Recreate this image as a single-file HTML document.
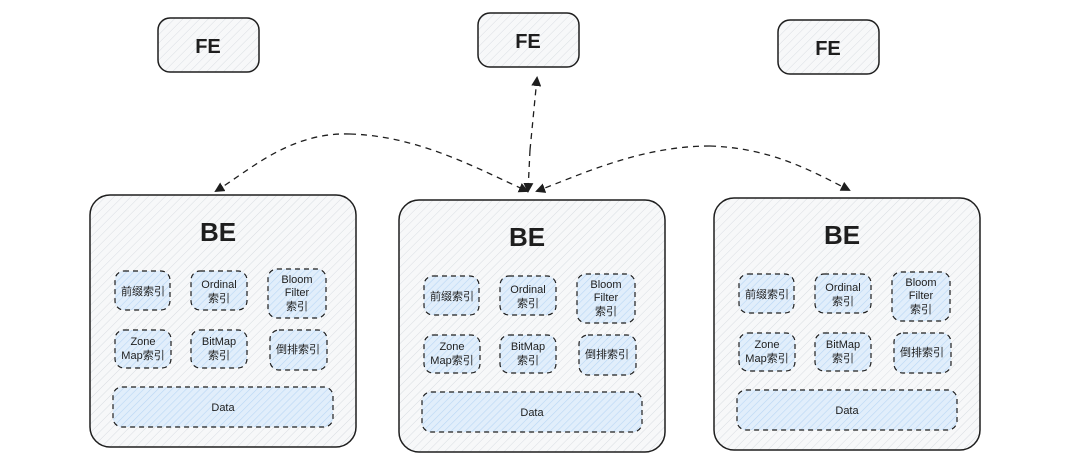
<!DOCTYPE html>
<html><head><meta charset="utf-8"><style>
html,body{margin:0;padding:0;background:#fff;}
svg{display:block;}
text{font-family:"Liberation Sans","Noto Sans CJK SC",sans-serif;fill:#1e1e1e;}
</style></head><body>
<svg width="1080" height="472" viewBox="0 0 1080 472" xmlns="http://www.w3.org/2000/svg">
<defs>
<pattern id="hg" width="6" height="6" patternUnits="userSpaceOnUse" patternTransform="rotate(45)">
<rect width="6" height="6" fill="#f7f8f9"/><line x1="0" y1="0" x2="0" y2="6" stroke="#d9dde2" stroke-width="1"/></pattern>
<pattern id="hb" width="5" height="5" patternUnits="userSpaceOnUse" patternTransform="rotate(45)">
<rect width="5" height="5" fill="#e1eefb"/><line x1="0" y1="0" x2="0" y2="5" stroke="#b9d7f5" stroke-width="1.2"/></pattern>
<marker id="ah" markerWidth="10" markerHeight="10" refX="8" refY="5" orient="auto" markerUnits="userSpaceOnUse">
<path d="M0,0 L10,5 L0,10 z" fill="#1e1e1e"/></marker>
<g id="be">
<rect x="0" y="0" width="266" height="252" rx="20" fill="url(#hg)" stroke="#1e1e1e" stroke-width="1.5"/>
<text x="128" y="46" font-size="26" font-weight="bold" text-anchor="middle">BE</text>
<g stroke="#1e1e1e" stroke-width="1.2" stroke-dasharray="5,4" fill="url(#hb)">
<rect x="25" y="76" width="55" height="39" rx="9"/>
<rect x="101" y="76" width="56" height="39" rx="9"/>
<rect x="178" y="74" width="58" height="49" rx="9"/>
<rect x="25" y="135" width="56" height="38" rx="9"/>
<rect x="101" y="135" width="56" height="38" rx="9"/>
<rect x="180" y="135" width="57" height="40" rx="9"/>
<rect x="23" y="192" width="220" height="40" rx="9"/>
</g>
<g font-size="11" text-anchor="middle">
<text x="53" y="100">前缀索引</text>
<text x="129" y="93">Ordinal</text><text x="129" y="107">索引</text>
<text x="207" y="88">Bloom</text><text x="207" y="101">Filter</text><text x="207" y="115">索引</text>
<text x="53" y="150">Zone</text><text x="53" y="164">Map索引</text>
<text x="129" y="150">BitMap</text><text x="129" y="164">索引</text>
<text x="208" y="158">倒排索引</text>
<text x="133" y="216">Data</text>
</g>
</g>
<g id="fe">
<rect x="0" y="0" width="101" height="54" rx="12" fill="url(#hg)" stroke="#1e1e1e" stroke-width="1.5"/>
<text x="50" y="35" font-size="20" font-weight="bold" text-anchor="middle">FE</text>
</g>
</defs>
<use href="#fe" x="158" y="18"/>
<use href="#fe" x="478" y="13"/>
<use href="#fe" x="778" y="20"/>
<use href="#be" x="90" y="195"/>
<use href="#be" x="399" y="200"/>
<use href="#be" x="714" y="198"/>
<g fill="none" stroke="#1e1e1e" stroke-width="1.3" stroke-dasharray="6,5">
<path d="M350,134 C290,132 250,170 216,191" marker-end="url(#ah)"/>
<path d="M350,134 C420,136 480,170 527,191" marker-end="url(#ah)"/>
<path d="M530,150 L537,78" marker-end="url(#ah)"/>
<path d="M530,150 L528,191" marker-end="url(#ah)"/>
<path d="M710,146 C640,146 580,175 537,191" marker-end="url(#ah)"/>
<path d="M710,146 C770,148 810,170 849,190" marker-end="url(#ah)"/>
</g>
</svg>
</body></html>
